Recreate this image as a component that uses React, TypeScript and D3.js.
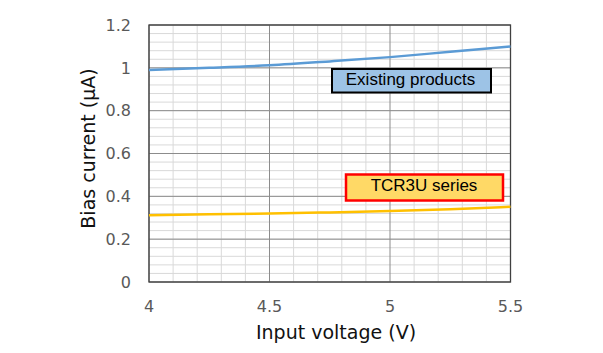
import React from "react";
import * as d3 from "d3";

const voltages = [4, 4.25, 4.5, 4.75, 5, 5.25, 5.5];
const existingProducts = [0.99, 1.0, 1.012, 1.03, 1.05, 1.075, 1.1];
const tcr3uSeries = [0.312, 0.316, 0.32, 0.325, 0.331, 0.34, 0.351];
const xTicks = [4, 4.5, 5, 5.5];
const yTicks = [0, 0.2, 0.4, 0.6, 0.8, 1, 1.2];
const xLabel = "Input voltage (V)";
const yLabel = "Bias current (μA)";
const label1 = "Existing products";
const label2 = "TCR3U series";

const W = 603, H = 353;
const L = 149, R = 510.5, T = 25, B = 282;

export default function App() {
  const x = d3.scaleLinear().domain([4, 5.5]).range([L, R]);
  const y = d3.scaleLinear().domain([0, 1.2]).range([B, T]);
  const minorX = d3.range(0, 16).map((i) => 4 + i * 0.1).filter((v) => Math.abs((v * 10) % 5) > 0.01);
  const minorY = d3.range(0, 31).map((i) => i * 0.04);
  const line = d3
    .line<number>()
    .x((_, i) => x(voltages[i]))
    .y((d) => y(d))
    .curve(d3.curveMonotoneX);
  const font = "Verdana, 'DejaVu Sans', sans-serif";
  const boxFont = "'Liberation Sans', Arial, sans-serif";
  return (
    <svg width={W} height={H} style={{ position: "absolute", left: 0, top: 0, background: "#fff" }}>
      {minorY.map((v, i) => (
        <line key={"my" + i} x1={L} x2={R} y1={y(v)} y2={y(v)} stroke="#d9d9d9" strokeWidth={1} />
      ))}
      {minorX.map((v, i) => (
        <line key={"mx" + i} x1={x(v)} x2={x(v)} y1={T} y2={B} stroke="#d9d9d9" strokeWidth={1} />
      ))}
      {yTicks.map((v) => (
        <line key={"gy" + v} x1={L} x2={R} y1={y(v)} y2={y(v)} stroke="#8c8c8c" strokeWidth={1} />
      ))}
      {xTicks.map((v) => (
        <line key={"gx" + v} x1={x(v)} x2={x(v)} y1={T} y2={B} stroke="#8c8c8c" strokeWidth={1} />
      ))}
      <rect x={L} y={T} width={R - L} height={B - T} fill="none" stroke="#404040" strokeWidth={1.3} />
      <path d={line(existingProducts) || ""} fill="none" stroke="#5B9BD5" strokeWidth={2.5} />
      <path d={line(tcr3uSeries) || ""} fill="none" stroke="#FFC000" strokeWidth={2.5} />
      {yTicks.map((v) => (
        <text key={"ty" + v} x={131} y={y(v)} dy="0.36em" textAnchor="end" fontFamily={font} fontSize={16} fill="#595959">
          {String(v)}
        </text>
      ))}
      {xTicks.map((v) => (
        <text key={"tx" + v} x={x(v)} y={306.5} dy="0.36em" textAnchor="middle" fontFamily={font} fontSize={16} fill="#595959">
          {String(v)}
        </text>
      ))}
      <text x={336} y={332} dy="0.36em" textAnchor="middle" fontFamily={font} fontSize={19} fill="#111">
        {xLabel}
      </text>
      <text transform={`translate(88,148.5) rotate(-90)`} dy="0.36em" textAnchor="middle" fontFamily={font} fontSize={19} fill="#111">
        {yLabel}
      </text>
      <rect x={332} y={69} width={159} height={23.5} fill="#9DC3E6" stroke="#000" strokeWidth={2} />
      <text x={410.5} y={85} textAnchor="middle" fontFamily={boxFont} fontSize={17} fill="#000">
        {label1}
      </text>
      <rect x={346} y={174.5} width={157} height={26} fill="#FFD966" stroke="#FF0000" strokeWidth={2.5} />
      <text x={424} y={191} textAnchor="middle" fontFamily={boxFont} fontSize={17} fill="#000">
        {label2}
      </text>
    </svg>
  );
}
